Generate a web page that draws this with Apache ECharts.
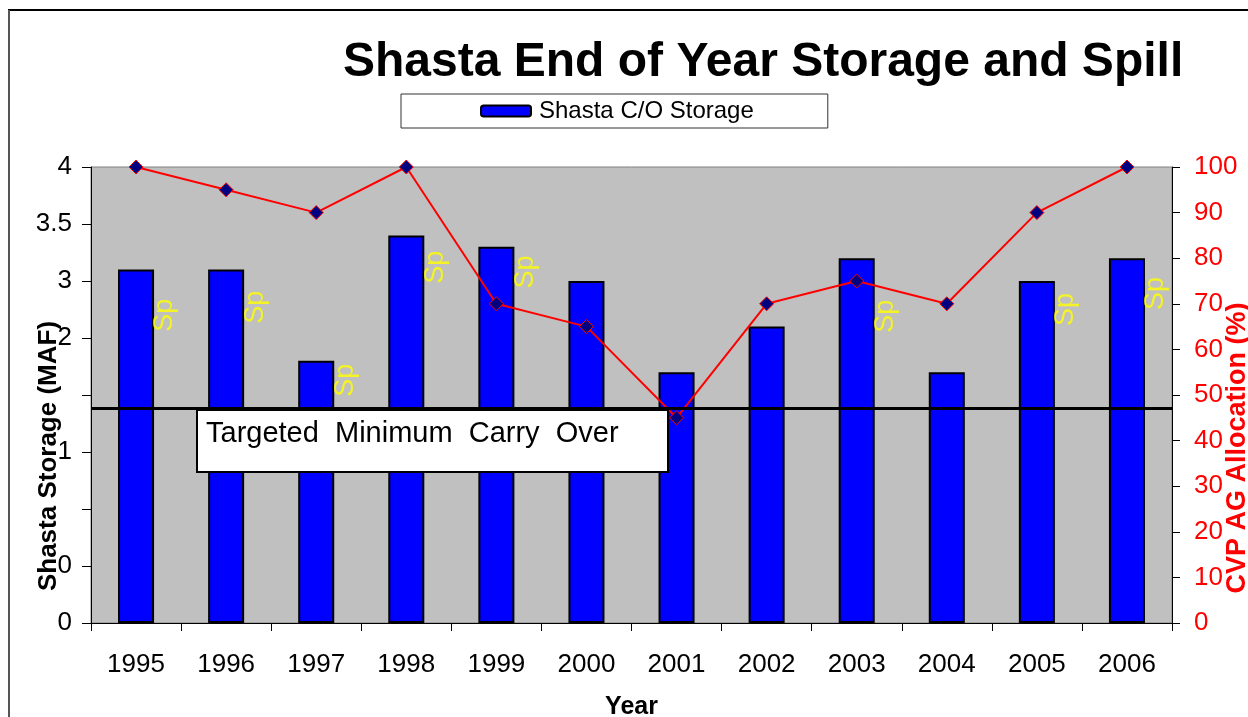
<!DOCTYPE html>
<html>
<head>
<meta charset="utf-8">
<script src="https://cdn.jsdelivr.net/npm/echarts@6/dist/echarts.min.js"></script>
<style>
html, body { margin: 0; padding: 0; background: #fff; }
#chart { width: 1248px; height: 717px; }
</style>
</head>
<body>
<div id="chart"></div>
<script>
// values
const years = ['1995', '1996', '1997', '1998', '1999', '2000', '2001', '2002', '2003', '2004', '2005', '2006'];
const storage = [3.1, 3.1, 2.3, 3.4, 3.3, 3.0, 2.2, 2.6, 3.2, 2.2, 3.0, 3.2];
const allocation = [100, 95, 90, 100, 70, 65, 45, 70, 75, 70, 90, 100];
// height (MAF) where each "Sp" note sits; null = no spill that year
const spillPos = [2.7, 2.77, 2.13, 3.12, 3.08, null, null, null, 2.69, null, 2.75, 2.89];
const targetCarryOver = 1.88;
// left tick labels as they show in the picture (some hidden behind the axis title)
const leftTickValues = [0, 0.5, 1, 1.5, 2, 2.5, 3, 3.5, 4];
const leftTickLabels = ['0', '0', '', '1', '', '2', '3', '3.5', '4'];

const font = 'Liberation Sans, Arial, sans-serif';
const chart = echarts.init(document.getElementById('chart'));

chart.setOption({
    animation: false,
    textStyle: { fontFamily: font },
    title: {
        text: 'Shasta End of Year Storage and Spill',
        left: 338,
        top: 34,
        textStyle: { fontSize: 48, fontWeight: 'bold', color: '#000', fontFamily: font }
    },
    legend: {
        data: ['Shasta C/O Storage'],
        left: 401,
        top: 94,
        padding: [5, 74, 5, 79],
        backgroundColor: '#fff',
        borderColor: '#333',
        borderWidth: 1,
        itemWidth: 50,
        itemHeight: 11,
        selectedMode: false,
        textStyle: { fontSize: 24, color: '#000', padding: [0, 0, 0, 3] }
    },
    grid: {
        left: 91,
        right: 76,
        top: 167,
        bottom: 94,
        outerBoundsMode: 'none',
        show: true,
        backgroundColor: '#C0C0C0',
        borderColor: '#808080',
        borderWidth: 1
    },
    xAxis: {
        type: 'category',
        data: years,
        name: 'Year',
        nameLocation: 'middle',
        nameGap: 72,
        nameTextStyle: { fontSize: 25, fontWeight: 'bold', color: '#000' },
        axisLine: { lineStyle: { color: '#000', width: 1 } },
        axisTick: { show: true, length: 8, lineStyle: { color: '#000' } },
        axisLabel: { fontSize: 26, color: '#000', margin: 29 }
    },
    yAxis: [
        {
            type: 'value',
            min: 0,
            max: 4,
            interval: 0.5,
            axisLine: { show: true, lineStyle: { color: '#000', width: 1 } },
            axisTick: { show: true, length: 9, lineStyle: { color: '#000' } },
            splitLine: { show: false },
            axisLabel: {
                fontSize: 26,
                color: '#000',
                margin: 19,
                formatter: v => {
                    const i = leftTickValues.indexOf(v);
                    return i >= 0 ? leftTickLabels[i] : '';
                }
            }
        },
        {
            type: 'value',
            min: 0,
            max: 100,
            interval: 10,
            position: 'right',
            axisLine: { show: true, lineStyle: { color: '#000', width: 1 } },
            axisTick: { show: true, length: 8, lineStyle: { color: '#000' } },
            splitLine: { show: false },
            axisLabel: { fontSize: 26, color: '#FF0000', margin: 22 }
        }
    ],
    graphic: [
        { type: 'line', shape: { x1: 8, y1: 10, x2: 1248, y2: 10 }, style: { stroke: '#000', lineWidth: 2 }, z: 100 },
        { type: 'line', shape: { x1: 9, y1: 10, x2: 9, y2: 717 }, style: { stroke: '#555', lineWidth: 2 }, z: 100 },
        {
            type: 'text',
            x: 49, y: 456,
            rotation: Math.PI / 2,
            z: 100,
            style: {
                text: 'Shasta Storage (MAF)',
                font: 'bold 26px ' + font,
                fill: '#000',
                align: 'center',
                verticalAlign: 'middle'
            }
        },
        {
            type: 'text',
            x: 1238, y: 448,
            rotation: Math.PI / 2,
            z: 100,
            style: {
                text: 'CVP AG Allocation (%)',
                font: 'bold 27px ' + font,
                fill: '#FF0000',
                align: 'center',
                verticalAlign: 'middle'
            }
        },
        {
            type: 'rect',
            z: 100,
            shape: { x: 197, y: 410, width: 471, height: 62 },
            style: { fill: '#fff', stroke: '#000', lineWidth: 2 }
        },
        {
            type: 'text',
            z: 101,
            x: 206, y: 434,
            style: {
                text: 'Targeted  Minimum  Carry  Over',
                font: '29px ' + font,
                fill: '#000',
                verticalAlign: 'middle'
            }
        }
    ],
    series: [
        {
            name: 'Shasta C/O Storage',
            type: 'bar',
            data: storage,
            barWidth: '40%',
            itemStyle: { color: '#0000FF', borderColor: '#000', borderWidth: 2 },
            markLine: {
                silent: true,
                symbol: 'none',
                label: { show: false },
                lineStyle: { color: '#000', width: 3, type: 'solid' },
                data: [{ yAxis: targetCarryOver }]
            }
        },
        {
            name: 'Spill',
            type: 'scatter',
            data: spillPos.map(v => (v === null ? '-' : v)),
            symbol: 'rect',
            symbolSize: 1,
            symbolOffset: [29, 0],
            itemStyle: { color: 'rgba(0,0,0,0)' },
            z: 3,
            label: {
                show: true,
                formatter: 'Sp',
                position: 'inside',
                rotate: 90,
                color: '#FFFF00',
                fontSize: 27
            }
        },
        {
            name: 'CVP AG Allocation',
            type: 'line',
            yAxisIndex: 1,
            data: allocation,
            symbol: 'diamond',
            symbolSize: 14,
            z: 4,
            lineStyle: { color: '#FF0000', width: 2 },
            itemStyle: { color: '#000080', borderColor: '#FF0000', borderWidth: 1 }
        }
    ]
});
</script>
</body>
</html>
